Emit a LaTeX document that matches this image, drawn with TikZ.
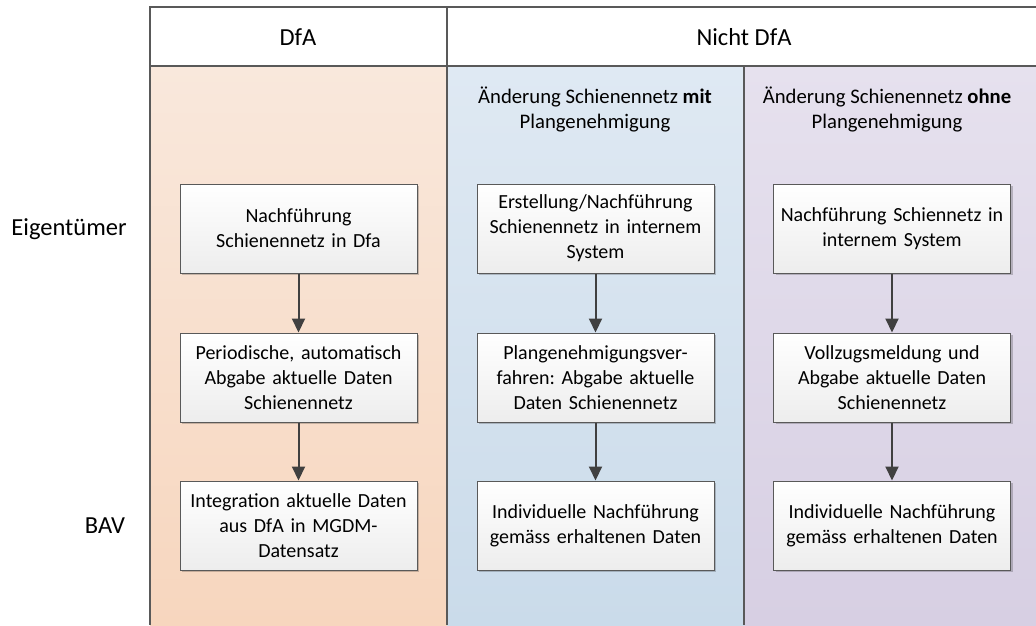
\documentclass[tikz,border=0pt]{standalone}
\usepackage{fontspec}
\setmainfont{Carlito}
\frenchspacing
\usetikzlibrary{arrows.meta, shadows}

\definecolor{rand}{HTML}{595959}
\definecolor{pfeilgrau}{HTML}{404040}
\definecolor{boxgrau}{HTML}{EDEDED}
\definecolor{dfaoben}{HTML}{F9E8DC}
\definecolor{dfaunten}{HTML}{F7D6BE}
\definecolor{mitoben}{HTML}{DFE9F3}
\definecolor{mitunten}{HTML}{CADBEA}
\definecolor{ohneoben}{HTML}{E6E1EE}
\definecolor{ohneunten}{HTML}{D7CFE3}

\tikzset{
  every node/.style={font=\fontsize{20}{25}\selectfont},
  gross/.style={font=\fontsize{24.5}{29}\selectfont},
  linie/.style={draw=rand, line width=1.5pt},
  prozess/.style={draw=rand, line width=1pt, top color=white, bottom color=boxgrau,
    minimum width=237, minimum height=89, text width=232, align=center, inner sep=0pt,
    drop shadow={shadow xshift=2pt, shadow yshift=-2pt, opacity=0.2, fill=black}},
  pfeil/.style={draw=pfeilgrau, line width=2pt, -{Triangle[length=14pt, width=13pt]}}
}

\begin{document}
\begin{tikzpicture}[x=1pt, y=-1pt]
\useasboundingbox (0,0) rectangle (1036,625);
% Bahnen
\shade[top color=dfaoben, bottom color=dfaunten] (150,66) rectangle (447,625);
\shade[top color=mitoben, bottom color=mitunten] (447,66) rectangle (744,625);
\shade[top color=ohneoben, bottom color=ohneunten] (744,66) rectangle (1036,625);
\draw[linie] (1036,7) -- (150,7) -- (150,625);
\draw[linie] (150,66) -- (1036,66);
\draw[linie] (447,7) -- (447,625);
\draw[linie] (744,66) -- (744,625);
% Kopf
\node[gross] (dfa) at (298,37) {DfA};
\node[gross] (nichtdfa) at (744,37) {Nicht DfA};
\node[align=center, font=\fontsize{20.7}{25}\selectfont] (mit) at (595,109) {Änderung Schienennetz \textbf{mit}\\Plangenehmigung};
\node[align=center, font=\fontsize{20.7}{25}\selectfont] (ohne) at (887,109) {Änderung Schienennetz \textbf{ohne}\\Plangenehmigung};
\node[gross] (eigentuemer) at (69,229) {Eigentümer};
\node[gross] (bav) at (105,526) {BAV};
% DfA
\node[prozess] (dfa1) at (298.5,228.5) {Nachführung\\Schienennetz in Dfa};
\node[prozess] (dfa2) at (298.5,377.5) {Periodische, automatisch\\Abgabe aktuelle Daten\\Schienennetz};
\node[prozess] (dfa3) at (298.5,525.5) {Integration aktuelle Daten\\aus DfA in MGDM-\\Datensatz};
% mit Plangenehmigung
\node[prozess] (mit1) at (595.5,228.5) {Erstellung/Nachführung\\Schienennetz in internem\\System};
\node[prozess] (mit2) at (595.5,377.5) {Plangenehmigungsver-\\fahren: Abgabe aktuelle\\Daten Schienennetz};
\node[prozess] (mit3) at (595.5,525.5) {Individuelle Nachführung\\gemäss erhaltenen Daten};
% ohne Plangenehmigung
\node[prozess] (ohne1) at (892,228.5) {Nachführung Schiennetz in\\internem System};
\node[prozess] (ohne2) at (892,377.5) {Vollzugsmeldung und\\Abgabe aktuelle Daten\\Schienennetz};
\node[prozess] (ohne3) at (892,525.5) {Individuelle Nachführung\\gemäss erhaltenen Daten};
\draw[pfeil] (dfa1) -- (dfa2);
\draw[pfeil] (dfa2) -- (dfa3);
\draw[pfeil] (mit1) -- (mit2);
\draw[pfeil] (mit2) -- (mit3);
\draw[pfeil] (ohne1) -- (ohne2);
\draw[pfeil] (ohne2) -- (ohne3);
\end{tikzpicture}
\end{document}
